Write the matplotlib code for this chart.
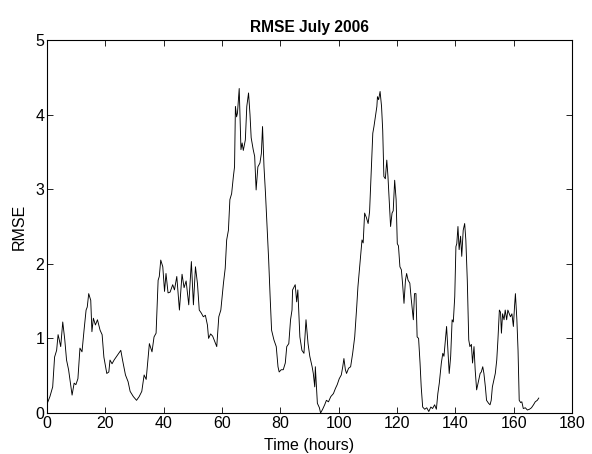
import matplotlib
matplotlib.use("Agg")
import matplotlib.pyplot as plt

# DATA --------------------------------------
hours = [
    0.1, 1.0, 1.95, 2.6, 3.3, 3.8, 4.1, 4.7, 5.4, 6.1, 6.7, 7.4, 8.6, 9.3, 9.9,
    10.6, 11.3, 12.0, 12.7, 13.4, 13.8, 14.3, 15.0, 15.4, 15.9, 16.6, 17.3,
    18.2, 18.9, 19.5, 20.5, 21.2, 21.6, 22.3, 23.0, 23.7, 24.6, 25.3, 25.9,
    26.9, 27.8, 28.5, 29.6, 30.7, 31.6, 32.5, 33.3, 34.0, 34.6, 35.1, 36.0,
    36.7, 37.4, 38.1, 38.5, 39.0, 39.7, 40.3, 40.8, 41.5, 42.2, 43.1, 43.7,
    44.5, 45.4, 46.3, 47.0, 47.7, 48.6, 49.5, 50.2, 50.9, 51.6, 52.2, 52.9,
    53.6, 54.3, 55.0, 55.4, 56.1, 56.8, 57.5, 58.2, 58.9, 59.6, 60.0, 60.5,
    61.1, 61.6, 62.2, 62.7, 63.3, 63.9, 64.3, 64.6, 65.0, 65.3, 65.9, 66.5,
    66.9, 67.3, 68.0, 68.5, 69.1, 69.6, 70.0, 70.7, 71.2, 71.7, 72.3, 73.0,
    73.5, 73.9, 74.4, 74.9, 75.3, 76.0, 76.5, 77.0, 77.8, 78.6, 79.2, 79.6,
    80.3, 81.0, 81.7, 82.2, 82.9, 83.5, 84.0, 84.2, 84.7, 85.1, 85.6, 86.0,
    86.7, 87.4, 88.1, 88.8, 89.5, 90.1, 90.9, 91.3, 91.8, 92.0, 92.7, 93.4,
    93.8, 94.5, 95.2, 95.8, 96.5, 97.3, 98.2, 98.9, 99.5, 100.2, 100.9, 101.4,
    101.8, 102.3, 102.7, 103.4, 104.1, 104.8, 105.5, 106.2, 106.6, 107.3,
    108.0, 108.4, 108.9, 109.5, 110.1, 110.6, 111.0, 111.7, 112.1, 112.6,
    113.1, 113.3, 113.7, 114.2, 114.7, 115.1, 115.5, 116.0, 116.5, 116.9,
    117.4, 117.8, 118.3, 118.7, 119.2, 119.7, 120.1, 120.5, 121.0, 121.5,
    121.9, 122.4, 122.9, 123.3, 123.8, 124.4, 124.8, 125.6, 126.0, 126.5,
    126.9, 127.4, 127.9, 128.3, 128.8, 129.5, 130.2, 130.9, 131.6, 132.2,
    132.9, 133.5, 134.0, 134.5, 135.2, 135.7, 136.1, 136.6, 137.0, 137.5,
    137.9, 138.4, 138.9, 139.3, 139.8, 140.2, 140.5, 140.9, 141.3, 141.8,
    142.2, 142.7, 143.2, 143.6, 144.1, 144.6, 145.0, 145.5, 145.9, 146.4,
    146.8, 147.3, 148.0, 148.5, 148.9, 149.4, 149.8, 150.3, 150.7, 151.4,
    151.9, 152.3, 152.7, 153.2, 153.7, 154.2, 154.6, 155.1, 155.5, 155.8,
    156.2, 156.7, 157.1, 157.6, 158.0, 158.5, 158.9, 159.4, 159.9, 160.3,
    160.6, 161.1, 161.5, 161.9, 162.4, 162.8, 163.3, 164.0, 164.7, 165.4,
    166.1, 166.8, 167.4, 168.1, 168.6,
]
rmse = [
    0.13, 0.22, 0.35, 0.75, 0.84, 1.05, 1.00, 0.89, 1.22, 0.98, 0.71, 0.58,
    0.24, 0.40, 0.38, 0.46, 0.87, 0.82, 1.11, 1.38, 1.42, 1.60, 1.51, 1.09,
    1.27, 1.18, 1.25, 1.11, 1.05, 0.75, 0.53, 0.55, 0.71, 0.66, 0.71, 0.75,
    0.80, 0.84, 0.71, 0.51, 0.42, 0.29, 0.22, 0.17, 0.22, 0.29, 0.51, 0.45,
    0.71, 0.93, 0.82, 1.02, 1.07, 1.78, 1.83, 2.05, 1.96, 1.63, 1.87, 1.61,
    1.62, 1.72, 1.65, 1.83, 1.38, 1.86, 1.68, 1.77, 1.45, 2.03, 1.45, 1.96,
    1.73, 1.38, 1.34, 1.29, 1.31, 1.18, 1.00, 1.06, 1.03, 0.96, 0.89, 1.29,
    1.38, 1.54, 1.74, 1.94, 2.32, 2.45, 2.86, 2.94, 3.17, 3.30, 4.11, 3.97,
    4.02, 4.35, 3.53, 3.62, 3.52, 3.66, 4.11, 4.29, 4.00, 3.69, 3.53, 3.44,
    2.99, 3.30, 3.35, 3.48, 3.84, 3.30, 2.95, 2.63, 2.05, 1.56, 1.11, 0.98,
    0.89, 0.62, 0.55, 0.58, 0.58, 0.67, 0.89, 0.93, 1.25, 1.38, 1.65, 1.69,
    1.72, 1.49, 1.65, 1.02, 0.84, 0.80, 1.25, 0.93, 0.76, 0.62, 0.53, 0.35,
    0.62, 0.13, 0.07, 0.00, 0.05, 0.11, 0.17, 0.15, 0.22, 0.26, 0.33, 0.38,
    0.46, 0.51, 0.62, 0.73, 0.58, 0.53, 0.60, 0.62, 0.80, 1.02, 1.43, 1.69,
    2.01, 2.32, 2.28, 2.68, 2.62, 2.54, 2.70, 3.08, 3.75, 3.84, 3.97, 4.11,
    4.24, 4.20, 4.31, 4.11, 3.79, 3.17, 3.14, 3.39, 3.17, 2.81, 2.50, 2.68,
    2.71, 3.12, 2.86, 2.27, 2.24, 1.96, 1.92, 1.74, 1.47, 1.78, 1.87, 1.78,
    1.74, 1.56, 1.25, 1.60, 1.60, 1.02, 1.00, 0.67, 0.35, 0.08, 0.05, 0.07,
    0.02, 0.08, 0.06, 0.11, 0.05, 0.26, 0.40, 0.67, 0.80, 0.76, 0.98, 1.16,
    0.80, 0.53, 0.76, 1.25, 1.22, 1.56, 2.23, 2.27, 2.50, 2.19, 2.37, 2.10,
    2.45, 2.54, 2.32, 1.78, 0.98, 0.89, 0.92, 0.67, 0.89, 0.58, 0.31, 0.44,
    0.53, 0.55, 0.62, 0.53, 0.35, 0.17, 0.13, 0.11, 0.17, 0.35, 0.44, 0.53,
    0.71, 0.98, 1.38, 1.35, 1.07, 1.33, 1.25, 1.38, 1.25, 1.38, 1.33, 1.29,
    1.33, 1.16, 1.43, 1.60, 1.25, 0.84, 0.17, 0.14, 0.15, 0.06, 0.07, 0.04,
    0.05, 0.07, 0.11, 0.15, 0.17, 0.20,
]

plt.rcParams["font.family"] = ["Liberation Sans", "DejaVu Sans"]
plt.rcParams["font.size"] = 11.5

fig = plt.figure(figsize=(5.92, 4.54), dpi=100)
ax = fig.add_axes([47 / 592, 41 / 454, 525 / 592, 373 / 454])

ax.plot(hours, rmse, color="black", linewidth=0.65)

ax.set_xlim(0, 180)
ax.set_ylim(0, 5)
ax.set_xticks(range(0, 181, 20))
ax.set_yticks(range(0, 6))
ax.tick_params(direction="in", top=True, right=True, length=4, width=0.6, pad=2)
for s in ax.spines.values():
    s.set_linewidth(0.8)

ax.set_xlabel("Time (hours)", labelpad=5)
ax.set_ylabel("RMSE", labelpad=6)
ax.set_title("RMSE July 2006", fontweight="bold", fontsize=11.2, pad=6)

fig.savefig("out.png", dpi=100)
